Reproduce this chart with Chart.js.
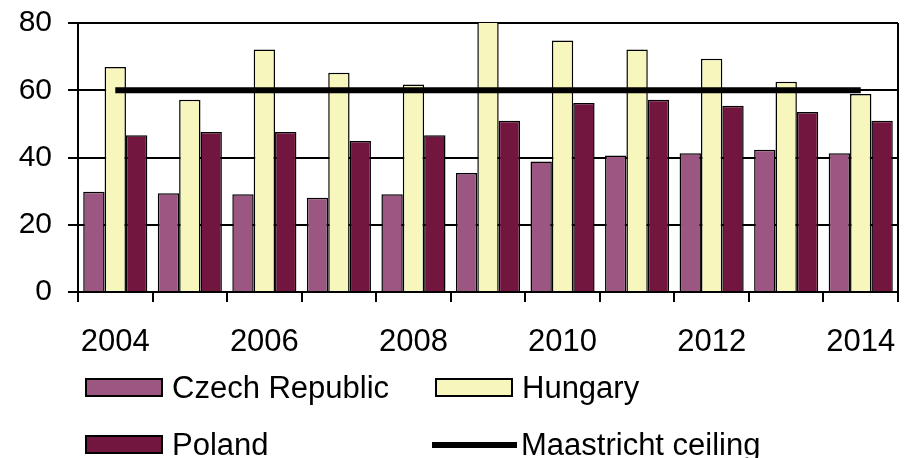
<!DOCTYPE html>
<html>
<head>
<meta charset="utf-8">
<script src="https://cdn.jsdelivr.net/npm/chart.js@4/dist/chart.umd.min.js"></script>
<style>
  html, body { margin: 0; padding: 0; background: #fff; }
  #wrap { position: relative; width: 906px; height: 458px; }
  #deuda { display: block; }
  #leyenda { position: absolute; left: 0; top: 0; width: 906px; height: 458px; pointer-events: none; }
  .item { position: absolute; height: 31px; display: flex; align-items: center;
          font-family: "Liberation Sans", Arial, sans-serif; font-size: 31px; color: #000; white-space: nowrap; }
  .caja { width: 74px; height: 15px; border: 2px solid #000; margin-right: 9px; }
  .linea { width: 85px; height: 6px; background: #000; margin-right: 4px; }
</style>
</head>
<body>
<div id="wrap">
  <canvas id="deuda" width="906" height="458"></canvas>
  <div id="leyenda"></div>
</div>
<script>
// deuda publica (% del PIB)
const years = ['2004', '2005', '2006', '2007', '2008', '2009', '2010', '2011', '2012', '2013', '2014'];
const czech = [29.8, 29.4, 29.1, 28.0, 29.1, 35.4, 38.8, 40.6, 41.3, 42.3, 41.3];
const hungary = [66.9, 57.2, 72.1, 65.2, 61.7, 81, 74.8, 72.1, 69.4, 62.5, 58.9];
const poland = [46.6, 47.6, 47.6, 44.9, 46.6, 50.9, 56.2, 57.2, 55.4, 53.5, 50.9];
const ceiling = [60, 60, 60, 60, 60, 60, 60, 60, 60, 60, 60];
const yTicks = [0, 20, 40, 60, 80];

const fuente = '"Liberation Sans", Arial, sans-serif';

// marco del area de trazado (lado derecho)
const marco = {
  id: 'marco',
  afterDraw(chart) {
    const { ctx, chartArea: a } = chart;
    ctx.save();
    ctx.strokeStyle = '#000';
    ctx.lineWidth = 2;
    ctx.beginPath();
    ctx.moveTo(a.right, a.top);
    ctx.lineTo(a.right, a.bottom);
    ctx.stroke();
    ctx.restore();
  }
};

const barra = (label, data, color) => ({
  type: 'bar', label, data,
  backgroundColor: color,
  borderColor: '#000',
  borderWidth: 1.5,
  categoryPercentage: 0.86,
  barPercentage: 1.0,
  order: 1
});

const chart = new Chart(document.getElementById('deuda'), {
  data: {
    labels: years,
    datasets: [
      barra('Czech Republic', czech, '#9b5781'),
      barra('Hungary', hungary, '#f6f6bd'),
      barra('Poland', poland, '#72163f'),
      {
        type: 'line', label: 'Maastricht ceiling', data: ceiling,
        borderColor: '#000', backgroundColor: '#000',
        borderWidth: 6, pointRadius: 0, order: 0
      }
    ]
  },
  options: {
    responsive: false,
    animation: false,
    layout: { padding: { top: 23, right: 8, bottom: 0, left: 0 } },
    plugins: { legend: { display: false }, tooltip: { enabled: false } },
    scales: {
      x: {
        offset: true,
        grid: { offset: true, drawOnChartArea: false, color: '#000', lineWidth: 2, tickLength: 10 },
        border: { color: '#000', width: 2 },
        ticks: {
          autoSkip: false, maxRotation: 0, padding: 22, color: '#000',
          font: { family: fuente, size: 31 },
          callback: (v, i) => (i % 2 === 0 ? years[i] : '')
        },
        afterFit: (s) => { s.height = 166; s.paddingLeft = 0; s.paddingRight = 0; }
      },
      y: {
        min: 0, max: 80,
        grid: { color: '#000', lineWidth: 2, tickLength: 10 },
        border: { color: '#000', width: 2 },
        afterBuildTicks: (s) => { s.ticks = yTicks.map((v) => ({ value: v })); },
        ticks: { padding: 16, color: '#000', font: { family: fuente, size: 30 } },
        afterFit: (s) => { s.width = 78; s.paddingTop = 0; s.paddingBottom = 0; }
      }
    }
  },
  plugins: [marco]
});

// leyenda en dos columnas
const posiciones = [
  { left: 85, top: 372 },
  { left: 435, top: 372 },
  { left: 85, top: 429 },
  { left: 432, top: 429 }
];
const $leyenda = document.getElementById('leyenda');
chart.data.datasets.forEach((ds, i) => {
  const item = document.createElement('div');
  item.className = 'item';
  item.style.left = posiciones[i].left + 'px';
  item.style.top = posiciones[i].top + 'px';
  const marca = document.createElement('span');
  if (ds.type === 'line') {
    marca.className = 'linea';
  } else {
    marca.className = 'caja';
    marca.style.background = ds.backgroundColor;
  }
  item.appendChild(marca);
  item.appendChild(document.createTextNode(ds.label));
  $leyenda.appendChild(item);
});
</script>
</body>
</html>
